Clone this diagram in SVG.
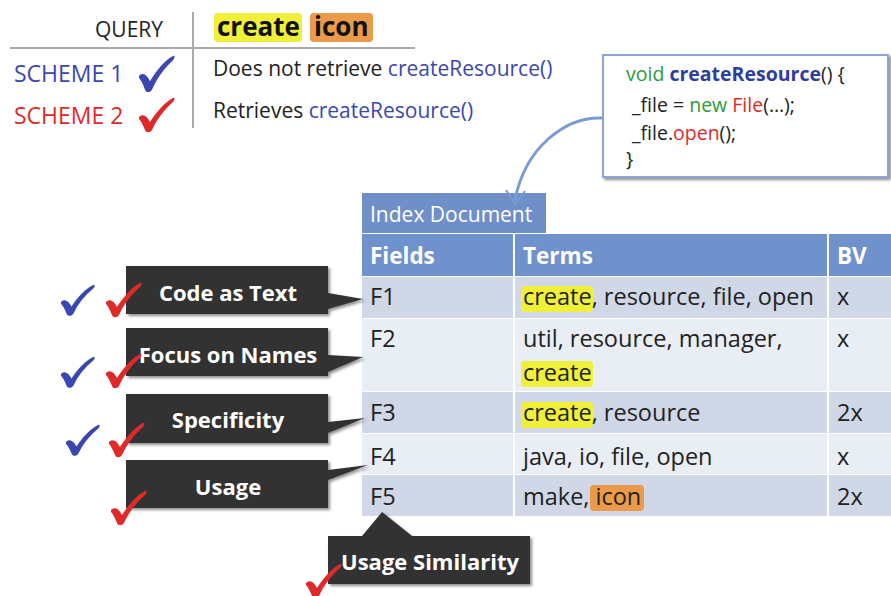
<svg xmlns="http://www.w3.org/2000/svg" width="891" height="596" viewBox="0 0 891 596">
<defs>
<style>
text{font-family:"Open Sans","Liberation Sans",sans-serif;}
.top{font-size:21px;fill:#222;}
.blue{fill:#3a47b0;}
.red{fill:#e02a2a;}
.cell{font-size:23.5px;fill:#222;}
.hdr{font-size:22.5px;font-weight:bold;fill:#fff;}
.lbl{font-size:22px;font-weight:bold;fill:#fff;text-anchor:middle;}
.box{fill:#333;}
.code{font-size:19.5px;fill:#222;}
.hy{fill:#f0f03a;}
.ho{fill:#ea9a48;}
.dk{fill:#d0d8e8;}
.lt{fill:#e9edf4;}
</style>
<filter id="sh" x="-10%" y="-10%" width="130%" height="140%">
<feDropShadow dx="2" dy="2" stdDeviation="1.5" flood-color="#000" flood-opacity="0.45"/>
</filter>
<path id="chk" d="M1,20 C5,16 9,19 12,25 C19,14 27,5 35,1 C37,0 37,3 35,5 C26,13 19,22 14,33 C12,36 8,36 7,33 C5,28 3,24 1,22 Z"/>
</defs>
<rect width="891" height="596" fill="#fff"/>

<g id="query-table">
<line x1="10" y1="48" x2="415" y2="48" stroke="#aaa" stroke-width="2"/>
<line x1="193" y1="12" x2="193" y2="128" stroke="#aaa" stroke-width="2"/>
<text x="163" y="37" font-size="21" text-anchor="end" fill="#222">QUERY</text>
<rect class="hy" x="214" y="13" width="88" height="29" rx="4"/>
<rect class="ho" x="310" y="13" width="63" height="29" rx="4"/>
<text x="217" y="36" font-size="26" font-weight="bold" fill="#111">create</text>
<text x="314" y="36" font-size="26" font-weight="bold" fill="#111">icon</text>
<text x="14" y="82" font-size="23" class="blue">SCHEME 1</text>
<use href="#chk" class="blue" transform="translate(138,55) scale(1.0,1.05)"/>
<text x="14" y="124" font-size="23" class="red">SCHEME 2</text>
<use href="#chk" class="red" transform="translate(138,97) scale(1.0,1.0)"/>
<text x="213" y="76" class="top">Does not retrieve <tspan class="blue">createResource()</tspan></text>
<text x="213" y="118" class="top">Retrieves <tspan class="blue">createResource()</tspan></text>
</g>

<g id="code-box">
<rect x="603" y="55" width="285" height="122" fill="#fff" stroke="#8ea4d4" stroke-width="2" filter="url(#sh)"/>
<text x="626" y="81" class="code"><tspan fill="#2e9a3a">void </tspan><tspan fill="#2e3e9c" font-weight="bold">createResource</tspan>() {</text>
<text x="632" y="112" class="code">_file = <tspan fill="#2e9a3a">new </tspan><tspan fill="#e02a2a">File</tspan>(…);</text>
<text x="632" y="140" class="code">_file.<tspan fill="#e02a2a">open</tspan>();</text>
<text x="626" y="166" class="code">}</text>
</g>

<g id="index-document">
<rect x="362" y="193" width="184" height="40" fill="#6f8fc8"/>
<text x="370" y="222" font-size="21" fill="#fff">Index Document</text>
<rect x="362" y="234" width="529" height="42" fill="#7092cc"/>
<rect x="513" y="234" width="2" height="282" fill="#fff"/>
<rect x="827" y="234" width="2" height="282" fill="#fff"/>
<text x="370" y="264" class="hdr">Fields</text>
<text x="523" y="264" class="hdr">Terms</text>
<text x="837" y="264" class="hdr">BV</text>

<rect class="dk" x="362" y="277" width="151" height="41"/><rect class="dk" x="515" y="277" width="312" height="41"/><rect class="dk" x="829" y="277" width="62" height="41"/>
<rect class="lt" x="362" y="319" width="151" height="72"/><rect class="lt" x="515" y="319" width="312" height="72"/><rect class="lt" x="829" y="319" width="62" height="72"/>
<rect class="dk" x="362" y="392" width="151" height="41"/><rect class="dk" x="515" y="392" width="312" height="41"/><rect class="dk" x="829" y="392" width="62" height="41"/>
<rect class="lt" x="362" y="434" width="151" height="40"/><rect class="lt" x="515" y="434" width="312" height="40"/><rect class="lt" x="829" y="434" width="62" height="40"/>
<rect class="dk" x="362" y="475" width="151" height="41"/><rect class="dk" x="515" y="475" width="312" height="41"/><rect class="dk" x="829" y="475" width="62" height="41"/>

<rect class="hy" x="521" y="286" width="72" height="26" rx="4"/>
<rect class="hy" x="521" y="361" width="72" height="26" rx="4"/>
<rect class="hy" x="521" y="402" width="72" height="26" rx="4"/>
<rect class="ho" x="590" y="485" width="54" height="26" rx="4"/>

<text x="370" y="305" class="cell">F1</text>
<text x="523" y="305" class="cell">create, resource, file, open</text>
<text x="837" y="305" class="cell">x</text>
<text x="370" y="347" class="cell">F2</text>
<text x="523" y="347" class="cell">util, resource, manager,</text>
<text x="523" y="381" class="cell">create</text>
<text x="837" y="347" class="cell">x</text>
<text x="370" y="421" class="cell">F3</text>
<text x="523" y="421" class="cell">create, resource</text>
<text x="837" y="421" class="cell">2x</text>
<text x="370" y="465" class="cell">F4</text>
<text x="523" y="465" class="cell">java, io, file, open</text>
<text x="837" y="465" class="cell">x</text>
<text x="370" y="505" class="cell">F5</text>
<text x="523" y="505" class="cell">make, icon</text>
<text x="837" y="505" class="cell">2x</text>
</g>

<g id="connectors">
<path d="M603,118 C565,116 525,148 515,200" fill="none" stroke="#7b9bd4" stroke-width="3"/>
<path d="M506,190 L515,204 L525,191" fill="none" stroke="#7b9bd4" stroke-width="2"/>
</g>

<g id="code-as-text">
<path class="box" filter="url(#sh)" d="M126,266 H328 V293 L363,299 L328,309 V314 H126 Z"/>
<text x="228" y="301" class="lbl">Code as Text</text>
</g>
<g id="focus-on-names">
<path class="box" filter="url(#sh)" d="M126,328 H328 V355 L363,357 L328,372 V376 H126 Z"/>
<text x="228" y="363" class="lbl">Focus on Names</text>
</g>
<g id="specificity">
<path class="box" filter="url(#sh)" d="M126,394 H328 V422 L365,418 L328,433 V443 H126 Z"/>
<text x="228" y="428" class="lbl">Specificity</text>
</g>
<g id="usage">
<path class="box" filter="url(#sh)" d="M126,460 H328 V470 L368,465 L328,480 V508 H126 Z"/>
<text x="228" y="495" class="lbl">Usage</text>
</g>
<g id="usage-similarity">
<path class="box" filter="url(#sh)" d="M328,536 H362 L382,512 L412,536 H530 V584 H328 Z"/>
<text x="430" y="570" class="lbl">Usage Similarity</text>
</g>

<g id="checks">
<use href="#chk" class="blue" transform="translate(60,284) scale(0.95,0.9)"/>
<use href="#chk" class="red" transform="translate(105,282)"/>
<use href="#chk" class="blue" transform="translate(60,356) scale(0.95,0.9)"/>
<use href="#chk" class="red" transform="translate(105,353)"/>
<use href="#chk" class="blue" transform="translate(65,424) scale(0.95,0.9)"/>
<use href="#chk" class="red" transform="translate(108,422)"/>
<use href="#chk" class="red" transform="translate(110,490)"/>
<use href="#chk" class="red" transform="translate(305,563)"/>
</g>
</svg>
